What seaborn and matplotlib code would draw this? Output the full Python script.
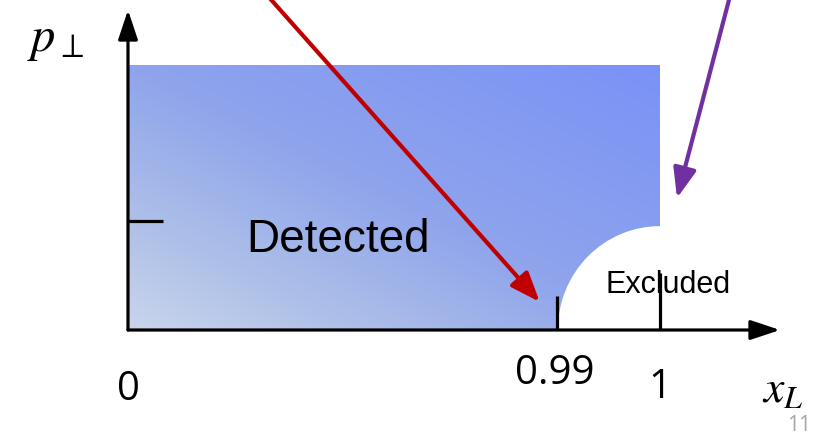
import numpy as np
import matplotlib
matplotlib.use("Agg")
import matplotlib.pyplot as plt
from matplotlib.colors import LinearSegmentedColormap
from matplotlib.patches import Ellipse
import seaborn as sns

## Data (schematic units: x_L axis 0..1, p_perp axis 0..1 = top of detected box)
x_tick_pos = [0.0, 0.806, 1.0]
x_tick_labels = ["0", "0.99", "1"]
x_tick_heights = [0.0, 0.13, 0.215]
y_tick_pos = [0.411]
detected_x = [0.0, 1.0]
detected_y = [0.0, 1.0]
excluded_center = (1.0, 0.0)
excluded_rx = 0.192
excluded_ry = 0.392
red_arrow = [(0.263, 1.26), (0.774, 0.106)]
purple_arrow = [(1.1316, 1.26), (1.032, 0.498)]

sns.set_theme(style="white")
plt.rcParams["mathtext.fontset"] = "stix"

fig = plt.figure(figsize=(8.25, 4.36), dpi=100)
ax = fig.add_axes([0, 0, 1, 1])
ax.set_xlim(-0.2406, 1.3102)
ax.set_ylim(-0.4, 1.2453)
ax.axis("off")

# gradient fill of the detected region (light bottom-left -> saturated top-right)
cmap = LinearSegmentedColormap.from_list(
    "det", [(0.0, "#c9d5ec"), (0.2, "#afc1e8"), (0.5, "#8fa4ec"), (1.0, "#7a92f7")])
gx, gy = np.meshgrid(np.linspace(0, 1, 300), np.linspace(0, 1, 300))
grad = 0.5 * gx + 0.5 * gy
ax.imshow(grad, extent=[detected_x[0], detected_x[1], detected_y[0], detected_y[1]],
          origin="lower", cmap=cmap, vmin=0, vmax=1, aspect="auto", zorder=1,
          interpolation="bilinear")

# excluded quarter disc
ax.add_patch(Ellipse(excluded_center, 2 * excluded_rx, 2 * excluded_ry,
                     facecolor="white", edgecolor="none", zorder=2))

# axes arrows
ax.annotate("", xy=(1.2256, 0), xytext=(0, 0),
            arrowprops=dict(arrowstyle="-|>,head_length=1.8,head_width=0.6",
                            mutation_scale=10, color="black", lw=2.3,
                            shrinkA=0, shrinkB=0), zorder=5)
ax.annotate("", xy=(0, 1.2075), xytext=(0, 0),
            arrowprops=dict(arrowstyle="-|>,head_length=1.8,head_width=0.6",
                            mutation_scale=10, color="black", lw=2.3,
                            shrinkA=0, shrinkB=0), zorder=5)

# ticks
for xp, h in zip(x_tick_pos, x_tick_heights):
    if h > 0:
        ax.plot([xp, xp], [0, h], color="black", lw=2.3, solid_capstyle="butt", zorder=5)
for yp in y_tick_pos:
    ax.plot([0, 0.066], [yp, yp], color="black", lw=2.3, solid_capstyle="butt", zorder=5)

# tick labels
label_y = [-0.226, -0.166, -0.219]
for xp, lab, ly in zip(x_tick_pos, x_tick_labels, label_y):
    ax.text(xp - (0.004 if lab == "0.99" else 0), ly, lab, ha="center", va="center",
            fontsize=29, family="Open Sans", color="black")

# region labels
ax.text(0.395, 0.34, "Detected", ha="center", va="center", fontsize=33,
        family="Liberation Sans", color="black", zorder=6)
ax.text(1.015, 0.17, "Excluded", ha="center", va="center", fontsize=22,
        family="Liberation Sans", color="black", zorder=6)

# axis labels
ax.text(-0.137, 1.10, r"$p_{\perp}$", ha="center", va="center", fontsize=35, color="black")
ax.text(1.23, -0.225, r"$x_L$", ha="center", va="center", fontsize=33, color="black")
ax.text(1.262, -0.36, "11", ha="center", va="center", fontsize=15,
        family="Open Sans", color="#a6a6a6")

# pointer arrows
ax.annotate("", xy=red_arrow[1], xytext=red_arrow[0],
            arrowprops=dict(arrowstyle="-|>,head_length=1.8,head_width=0.7",
                            mutation_scale=10, color="#c00000", lw=3,
                            shrinkA=0, shrinkB=0), zorder=7, annotation_clip=False)
ax.annotate("", xy=purple_arrow[1], xytext=purple_arrow[0],
            arrowprops=dict(arrowstyle="-|>,head_length=1.8,head_width=0.7",
                            mutation_scale=10, color="#7030a0", lw=3,
                            shrinkA=0, shrinkB=0), zorder=7, annotation_clip=False)

fig.savefig("out.png", dpi=100)
